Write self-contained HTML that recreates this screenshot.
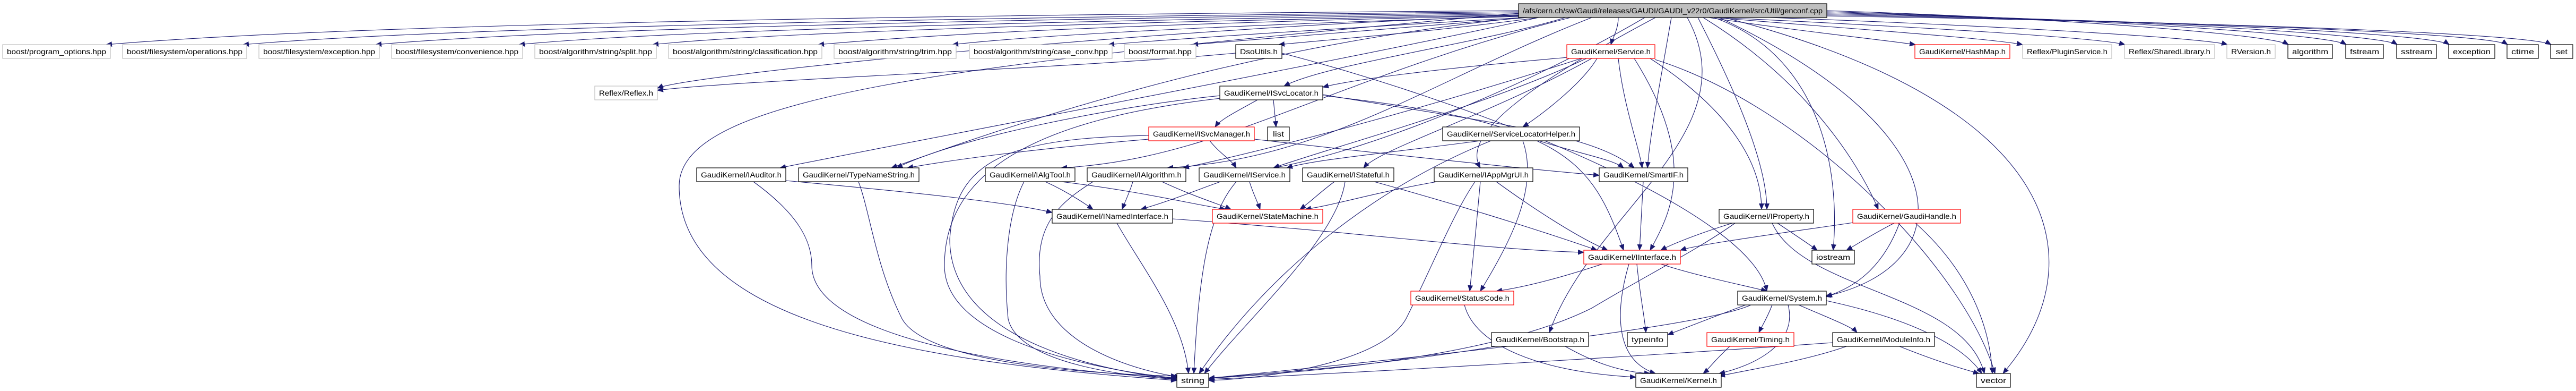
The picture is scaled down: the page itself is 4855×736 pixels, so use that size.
<!DOCTYPE html>
<html><head><meta charset="utf-8"><style>
html,body{margin:0;padding:0;background:#fff;}
svg{display:block;}
text{font-family:"Liberation Sans",sans-serif;font-size:14px;fill:#000;}
.e{fill:none;stroke:#191970;stroke-width:1.1;marker-end:url(#a);}
.b{fill:#fff;stroke:#000;stroke-width:1.2;}
.g{fill:#fff;stroke:#bfbfbf;stroke-width:1.2;}
.r{fill:#fff;stroke:#ff0000;stroke-width:1.2;}
</style></head><body>
<svg width="4855" height="736" viewBox="0 0 4855 736" xmlns="http://www.w3.org/2000/svg">
<defs><marker id="a" markerWidth="12" markerHeight="10" refX="11" refY="5" orient="auto" markerUnits="userSpaceOnUse"><path d="M0,0 L12,5 L0,10 z" fill="#191970"/></marker></defs>
<g>
<path class="e" d="M2862 20 C1500 30 600 50 200 84"/>
<path class="e" d="M2862 22 C1600 35 800 55 458 84"/>
<path class="e" d="M2862 24 C1700 38 1000 58 708 84"/>
<path class="e" d="M2862 26 C1800 42 1200 62 978 84"/>
<path class="e" d="M2862 28 C1900 45 1400 66 1230 84"/>
<path class="e" d="M2862 29 C2000 48 1700 70 1542 84"/>
<path class="e" d="M2862 31 C2200 50 1900 72 1795 84"/>
<path class="e" d="M2870 33 C2500 55 2200 74 2089 84"/>
<path class="e" d="M2880 33 C2600 55 2350 75 2247 84"/>
<path class="e" d="M2900 33 C2700 60 2500 75 2410 84"/>
<path class="e" d="M3050 33 C3050 55 3040 70 3036 84"/>
<path class="e" d="M3220 33 C3400 60 3550 75 3610 84"/>
<path class="e" d="M3230 33 C3500 55 3750 72 3812 84"/>
<path class="e" d="M3240 33 C3600 50 3950 70 4005 84"/>
<path class="e" d="M3250 30 C3700 45 4150 70 4198 84"/>
<path class="e" d="M3443 20 C3900 35 4280 65 4313 84"/>
<path class="e" d="M3443 22 C4000 38 4390 65 4422 84"/>
<path class="e" d="M3443 24 C4100 40 4490 66 4518 84"/>
<path class="e" d="M3443 26 C4200 42 4590 66 4616 84"/>
<path class="e" d="M3443 28 C4300 44 4700 67 4726 84"/>
<path class="e" d="M3443 30 C4400 46 4780 68 4808 84"/>
<path class="e" d="M2862 30 C2200 50 1300 140 1239 166"/>
<path class="e" d="M2950 33 C2800 80 2500 120 2420 162"/>
<path class="e" d="M3200 33 C3260 150 3330 300 3330 394"/>
<path class="e" d="M3210 33 C3400 150 3500 300 3540 394"/>
<path class="e" d="M3230 33 C3420 100 3470 300 3455 471"/>
<path class="e" d="M3240 33 C3700 250 3700 500 3440 558"/>
<path class="e" d="M3250 33 C3900 200 3950 500 3775 703"/>
<path class="e" d="M3150 33 C3130 150 3110 250 3105 316"/>
<path class="e" d="M3000 33 C2700 150 2500 300 2200 316"/>
<path class="e" d="M2960 33 C2500 150 2300 300 2000 316"/>
<path class="e" d="M3100 33 C2900 150 2600 280 2400 316"/>
<path class="e" d="M3120 33 C2900 150 2750 250 2790 316"/>
<path class="e" d="M3180 33 C3300 250 3000 400 2920 626"/>
<path class="e" d="M2870 33 C2400 80 2000 200 1680 316"/>
<path class="e" d="M2900 33 C2500 120 1800 250 1470 316"/>
<path class="e" d="M2862 25 C1800 120 1280 180 1280 350 C1280 600 1700 680 2218 716"/>
<path class="e" d="M2955 108 C2700 130 2550 150 2493 164"/>
<path class="e" d="M3010 110 C2980 160 2900 220 2870 239"/>
<path class="e" d="M2990 110 C2800 200 2500 280 2400 316"/>
<path class="e" d="M3000 110 C2800 220 2600 280 2570 316"/>
<path class="e" d="M3050 110 C3060 200 3090 280 3095 316"/>
<path class="e" d="M3080 110 C3200 300 3150 400 3110 471"/>
<path class="e" d="M3110 110 C3250 200 3320 300 3320 394"/>
<path class="e" d="M2980 110 C2700 200 2400 280 2230 316"/>
<path class="e" d="M3119 112 C3400 200 3700 500 3760 703"/>
<path class="e" d="M2416 100 C2800 200 3300 400 3330 548"/>
<path class="e" d="M2329 100 C2000 130 1400 150 1239 170"/>
<path class="e" d="M2370 188 C2330 210 2300 225 2290 239"/>
<path class="e" d="M2400 188 L2405 239"/>
<path class="e" d="M2300 180 C2100 200 1800 260 1690 316"/>
<path class="e" d="M2300 185 C2000 220 1780 300 1780 500 C1780 650 2100 700 2218 712"/>
<path class="e" d="M2493 180 C2950 230 3000 300 3060 471"/>
<path class="e" d="M2493 178 C2800 230 3000 250 3080 316"/>
<path class="e" d="M2280 265 C2300 290 2320 300 2330 316"/>
<path class="e" d="M2364 262 C2700 300 2900 320 3014 330"/>
<path class="e" d="M2165 262 C1950 280 1800 300 1710 316"/>
<path class="e" d="M2165 255 C1900 260 1800 300 1790 450 C1790 650 2100 700 2218 714"/>
<path class="e" d="M2790 265 C2600 290 2480 300 2425 316"/>
<path class="e" d="M2900 265 C2980 290 3040 300 3060 316"/>
<path class="e" d="M2870 265 C2900 350 2850 450 2790 548"/>
<path class="e" d="M2810 265 C2600 350 2400 500 2260 703"/>
<path class="e" d="M1481 340 C1700 360 1900 380 1983 400"/>
<path class="e" d="M1420 342 C1500 400 1530 450 1530 500 C1530 650 2000 700 2218 712"/>
<path class="e" d="M1618 342 C1640 400 1650 500 1700 600 C1750 690 2100 705 2218 708"/>
<path class="e" d="M1970 342 C2010 360 2040 380 2060 394"/>
<path class="e" d="M2000 342 C2150 360 2250 385 2310 394"/>
<path class="e" d="M1930 342 C1900 400 1890 500 1900 600 C1920 690 2150 710 2218 714"/>
<path class="e" d="M2135 342 C2130 360 2120 380 2115 394"/>
<path class="e" d="M2190 342 C2250 370 2300 385 2320 394"/>
<path class="e" d="M2060 342 C2000 380 1950 420 1960 520 C1960 650 2150 700 2225 710"/>
<path class="e" d="M2300 342 C2250 360 2200 380 2150 394"/>
<path class="e" d="M2355 342 C2360 360 2370 380 2375 394"/>
<path class="e" d="M2330 342 C2280 400 2260 500 2250 703"/>
<path class="e" d="M2515 342 C2490 360 2470 380 2450 394"/>
<path class="e" d="M2590 342 C2800 400 2950 450 3010 471"/>
<path class="e" d="M2535 342 C2520 450 2350 600 2270 703"/>
<path class="e" d="M2720 340 C2600 360 2520 385 2460 394"/>
<path class="e" d="M2820 342 C2900 400 2980 450 3030 471"/>
<path class="e" d="M2790 342 C2785 400 2775 500 2770 548"/>
<path class="e" d="M2780 342 C2740 400 2700 500 2650 600 C2600 690 2350 715 2278 716"/>
<path class="e" d="M3097 342 L3090 471"/>
<path class="e" d="M2210 412 C2600 440 2800 470 2985 475"/>
<path class="e" d="M2105 420 C2150 500 2230 600 2240 703"/>
<path class="e" d="M3265 420 C3200 440 3150 460 3130 471"/>
<path class="e" d="M3350 420 C3380 440 3410 460 3425 471"/>
<path class="e" d="M3340 420 C3400 550 3700 550 3740 703"/>
<path class="e" d="M3270 420 C3200 470 3100 520 3000 580 C2800 680 2400 705 2278 712"/>
<path class="e" d="M3500 418 C3350 440 3200 460 3167 471"/>
<path class="e" d="M3570 420 C3530 440 3500 460 3480 471"/>
<path class="e" d="M3580 420 C3550 500 3500 540 3442 558"/>
<path class="e" d="M3610 420 C3700 500 3750 600 3755 703"/>
<path class="e" d="M3020 497 C2950 520 2880 540 2820 548"/>
<path class="e" d="M3085 497 C3090 550 3100 600 3102 626"/>
<path class="e" d="M3070 497 C3040 600 3050 680 3120 703"/>
<path class="e" d="M3130 497 C3200 520 3300 540 3330 548"/>
<path class="e" d="M2760 574 C2780 650 2900 700 3083 710"/>
<path class="e" d="M3300 574 C3200 620 2600 680 2278 712"/>
<path class="e" d="M3290 574 C3220 600 3170 620 3143 630"/>
<path class="e" d="M3340 574 C3330 600 3320 615 3315 626"/>
<path class="e" d="M3390 574 C3450 600 3490 615 3500 626"/>
<path class="e" d="M3370 574 C3390 650 3300 690 3240 703"/>
<path class="e" d="M3442 566 C3600 600 3700 650 3735 703"/>
<path class="e" d="M2830 650 C2600 690 2350 705 2278 712"/>
<path class="e" d="M2950 652 C3000 680 3050 700 3110 703"/>
<path class="e" d="M3260 652 C3230 680 3220 695 3210 703"/>
<path class="e" d="M3480 652 C3400 680 3300 695 3240 708"/>
<path class="e" d="M3580 652 C3650 680 3700 695 3730 703"/>
<path class="e" d="M3454 645 C3100 670 2600 700 2278 714"/>
</g>
<g>
<rect x="2862" y="7" width="581" height="26" fill="#bfbfbf" stroke="#000" stroke-width="1.2"/>
<text x="2870" y="25" textLength="565" lengthAdjust="spacingAndGlyphs">/afs/cern.ch/sw/Gaudi/releases/GAUDI/GAUDI_v22r0/GaudiKernel/src/Util/genconf.cpp</text>

<rect class="g" x="5" y="84" width="203" height="26"/><text x="13" y="102" textLength="187" lengthAdjust="spacingAndGlyphs">boost/program_options.hpp</text>
<rect class="g" x="231" y="84" width="234" height="26"/><text x="239" y="102" textLength="218" lengthAdjust="spacingAndGlyphs">boost/filesystem/operations.hpp</text>
<rect class="g" x="488" y="84" width="227" height="26"/><text x="496" y="102" textLength="211" lengthAdjust="spacingAndGlyphs">boost/filesystem/exception.hpp</text>
<rect class="g" x="738" y="84" width="247" height="26"/><text x="746" y="102" textLength="231" lengthAdjust="spacingAndGlyphs">boost/filesystem/convenience.hpp</text>
<rect class="g" x="1008" y="84" width="229" height="26"/><text x="1016" y="102" textLength="213" lengthAdjust="spacingAndGlyphs">boost/algorithm/string/split.hpp</text>
<rect class="g" x="1260" y="84" width="289" height="26"/><text x="1268" y="102" textLength="273" lengthAdjust="spacingAndGlyphs">boost/algorithm/string/classification.hpp</text>
<rect class="g" x="1572" y="84" width="230" height="26"/><text x="1580" y="102" textLength="214" lengthAdjust="spacingAndGlyphs">boost/algorithm/string/trim.hpp</text>
<rect class="g" x="1827" y="84" width="269" height="26"/><text x="1835" y="102" textLength="253" lengthAdjust="spacingAndGlyphs">boost/algorithm/string/case_conv.hpp</text>
<rect class="g" x="2119" y="84" width="135" height="26"/><text x="2127" y="102" textLength="119" lengthAdjust="spacingAndGlyphs">boost/format.hpp</text>
<rect class="b" x="2329" y="84" width="87" height="26"/><text x="2337" y="102" textLength="71" lengthAdjust="spacingAndGlyphs">DsoUtils.h</text>
<rect class="r" x="2953" y="84" width="166" height="26"/><text x="2961" y="102" textLength="150" lengthAdjust="spacingAndGlyphs">GaudiKernel/Service.h</text>
<rect class="r" x="3609" y="84" width="179" height="26"/><text x="3617" y="102" textLength="163" lengthAdjust="spacingAndGlyphs">GaudiKernel/HashMap.h</text>
<rect class="g" x="3812" y="84" width="168" height="26"/><text x="3820" y="102" textLength="152" lengthAdjust="spacingAndGlyphs">Reflex/PluginService.h</text>
<rect class="g" x="4004" y="84" width="170" height="26"/><text x="4012" y="102" textLength="154" lengthAdjust="spacingAndGlyphs">Reflex/SharedLibrary.h</text>
<rect class="g" x="4197" y="84" width="91" height="26"/><text x="4205" y="102" textLength="75" lengthAdjust="spacingAndGlyphs">RVersion.h</text>
<rect class="b" x="4312" y="84" width="84" height="26"/><text x="4320" y="102" textLength="68" lengthAdjust="spacingAndGlyphs">algorithm</text>
<rect class="b" x="4421" y="84" width="71" height="26"/><text x="4429" y="102" textLength="55" lengthAdjust="spacingAndGlyphs">fstream</text>
<rect class="b" x="4517" y="84" width="75" height="26"/><text x="4525" y="102" textLength="59" lengthAdjust="spacingAndGlyphs">sstream</text>
<rect class="b" x="4615" y="84" width="87" height="26"/><text x="4623" y="102" textLength="71" lengthAdjust="spacingAndGlyphs">exception</text>
<rect class="b" x="4725" y="84" width="59" height="26"/><text x="4733" y="102" textLength="43" lengthAdjust="spacingAndGlyphs">ctime</text>
<rect class="b" x="4807" y="84" width="42" height="26"/><text x="4817" y="102" textLength="22" lengthAdjust="spacingAndGlyphs">set</text>

<rect class="g" x="1121" y="162" width="118" height="26"/><text x="1129" y="180" textLength="102" lengthAdjust="spacingAndGlyphs">Reflex/Reflex.h</text>
<rect class="b" x="2299" y="162" width="194" height="26"/><text x="2307" y="180" textLength="178" lengthAdjust="spacingAndGlyphs">GaudiKernel/ISvcLocator.h</text>

<rect class="r" x="2165" y="239" width="199" height="26"/><text x="2173" y="257" textLength="183" lengthAdjust="spacingAndGlyphs">GaudiKernel/ISvcManager.h</text>
<rect class="b" x="2389" y="239" width="41" height="26"/><text x="2399" y="257" textLength="21" lengthAdjust="spacingAndGlyphs">list</text>
<rect class="b" x="2719" y="239" width="258" height="26"/><text x="2727" y="257" textLength="242" lengthAdjust="spacingAndGlyphs">GaudiKernel/ServiceLocatorHelper.h</text>

<rect class="b" x="1313" y="316" width="168" height="26"/><text x="1321" y="334" textLength="152" lengthAdjust="spacingAndGlyphs">GaudiKernel/IAuditor.h</text>
<rect class="b" x="1505" y="316" width="227" height="26"/><text x="1513" y="334" textLength="211" lengthAdjust="spacingAndGlyphs">GaudiKernel/TypeNameString.h</text>
<rect class="b" x="1857" y="316" width="169" height="26"/><text x="1865" y="334" textLength="153" lengthAdjust="spacingAndGlyphs">GaudiKernel/IAlgTool.h</text>
<rect class="b" x="2049" y="316" width="186" height="26"/><text x="2057" y="334" textLength="170" lengthAdjust="spacingAndGlyphs">GaudiKernel/IAlgorithm.h</text>
<rect class="b" x="2260" y="316" width="171" height="26"/><text x="2268" y="334" textLength="155" lengthAdjust="spacingAndGlyphs">GaudiKernel/IService.h</text>
<rect class="b" x="2455" y="316" width="172" height="26"/><text x="2463" y="334" textLength="156" lengthAdjust="spacingAndGlyphs">GaudiKernel/IStateful.h</text>
<rect class="b" x="2703" y="316" width="186" height="26"/><text x="2711" y="334" textLength="170" lengthAdjust="spacingAndGlyphs">GaudiKernel/IAppMgrUI.h</text>
<rect class="b" x="3014" y="316" width="167" height="26"/><text x="3022" y="334" textLength="151" lengthAdjust="spacingAndGlyphs">GaudiKernel/SmartIF.h</text>

<rect class="b" x="1983" y="394" width="227" height="26"/><text x="1991" y="412" textLength="211" lengthAdjust="spacingAndGlyphs">GaudiKernel/INamedInterface.h</text>
<rect class="r" x="2285" y="394" width="208" height="26"/><text x="2293" y="412" textLength="192" lengthAdjust="spacingAndGlyphs">GaudiKernel/StateMachine.h</text>
<rect class="b" x="3240" y="394" width="178" height="26"/><text x="3248" y="412" textLength="162" lengthAdjust="spacingAndGlyphs">GaudiKernel/IProperty.h</text>
<rect class="r" x="3492" y="394" width="203" height="26"/><text x="3500" y="412" textLength="187" lengthAdjust="spacingAndGlyphs">GaudiKernel/GaudiHandle.h</text>

<rect class="r" x="2985" y="471" width="182" height="26"/><text x="2993" y="489" textLength="166" lengthAdjust="spacingAndGlyphs">GaudiKernel/IInterface.h</text>
<rect class="b" x="3415" y="471" width="80" height="26"/><text x="3423" y="489" textLength="64" lengthAdjust="spacingAndGlyphs">iostream</text>

<rect class="r" x="2659" y="548" width="194" height="26"/><text x="2667" y="566" textLength="178" lengthAdjust="spacingAndGlyphs">GaudiKernel/StatusCode.h</text>
<rect class="b" x="3275" y="548" width="167" height="26"/><text x="3283" y="566" textLength="151" lengthAdjust="spacingAndGlyphs">GaudiKernel/System.h</text>

<rect class="b" x="2811" y="626" width="183" height="26"/><text x="2819" y="644" textLength="167" lengthAdjust="spacingAndGlyphs">GaudiKernel/Bootstrap.h</text>
<rect class="b" x="3067" y="626" width="76" height="26"/><text x="3075" y="644" textLength="60" lengthAdjust="spacingAndGlyphs">typeinfo</text>
<rect class="r" x="3217" y="626" width="164" height="26"/><text x="3225" y="644" textLength="148" lengthAdjust="spacingAndGlyphs">GaudiKernel/Timing.h</text>
<rect class="b" x="3454" y="626" width="192" height="26"/><text x="3462" y="644" textLength="176" lengthAdjust="spacingAndGlyphs">GaudiKernel/ModuleInfo.h</text>

<rect class="b" x="2218" y="703" width="60" height="26"/><text x="2226" y="721" textLength="44" lengthAdjust="spacingAndGlyphs">string</text>
<rect class="b" x="3083" y="703" width="161" height="26"/><text x="3091" y="721" textLength="145" lengthAdjust="spacingAndGlyphs">GaudiKernel/Kernel.h</text>
<rect class="b" x="3725" y="703" width="64" height="26"/><text x="3733" y="721" textLength="48" lengthAdjust="spacingAndGlyphs">vector</text>
</g>
</svg>
</body></html>
